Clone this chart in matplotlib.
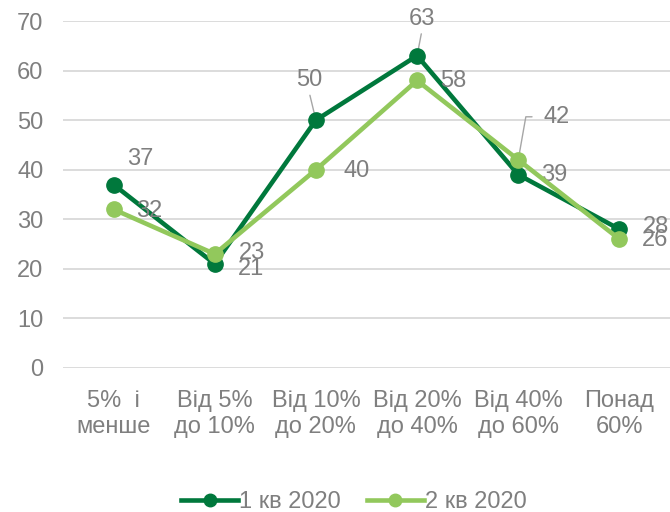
import numpy as np
import matplotlib.pyplot as plt

plt.rcParams['font.family'] = ['Liberation Sans', 'DejaVu Sans']

# categories and series
categories = ['5%  і\nменше', 'Від 5%\nдо 10%', 'Від 10%\nдо 20%',
              'Від 20%\nдо 40%', 'Від 40%\nдо 60%', 'Понад\n60%']
q1_2020 = [37, 21, 50, 63, 39, 28]
q2_2020 = [32, 23, 40, 58, 42, 26]
series_names = ['1 кв 2020', '2 кв 2020']

dark = '#00783C'
light = '#92C85C'
gray = '#7F7F7F'
lead = '#A6A6A6'

fig = plt.figure(figsize=(6.7, 5.12), dpi=100)
ax = fig.add_axes([63 / 670, 144 / 512, 607 / 670, 347 / 512])

x = np.arange(len(categories))
ax.plot(x, q1_2020, color=dark, lw=3.3, marker='o', ms=11, label=series_names[0], zorder=3)
ax.plot(x, q2_2020, color=light, lw=3.3, marker='o', ms=11, label=series_names[1], zorder=4)

ax.set_xlim(-0.5, 5.5)
ax.set_ylim(0, 70)
ax.set_yticks(range(0, 71, 10))
ax.set_xticks(x)
ax.set_xticklabels(categories)
ax.tick_params(length=0, labelsize=17, labelcolor=gray)
ax.tick_params(axis='y', pad=14)
ax.tick_params(axis='x', pad=16)
ax.grid(axis='y', color='#D9D9D9', lw=1.3)
ax.set_axisbelow(True)
for s in ax.spines.values():
    s.set_visible(False)

# label offsets in pixels (dx, dy), dy upward
off1 = [(27, 26), (36, -5), (-7, 40), (5, 37), (36, 0), (37, 2)]
off2 = [(36, -2), (37, 1), (41, -1), (36, -1), (38, 43), (36, -1)]

fs = 17
for i, v in enumerate(q1_2020):
    if i in (2, 3):
        ax.annotate(str(v), xy=(i, v), xytext=off1[i], textcoords='offset pixels',
                    ha='center', va='center', fontsize=fs, color=gray, zorder=2,
                    arrowprops=dict(arrowstyle='-', color=lead, lw=1,
                                    shrinkA=1, shrinkB=1, relpos=(0.5, 0)))
    else:
        ax.annotate(str(v), xy=(i, v), xytext=off1[i], textcoords='offset pixels',
                    ha='center', va='center', fontsize=fs, color=gray, annotation_clip=False)

for i, v in enumerate(q2_2020):
    if i == 4:
        ax.annotate(str(v), xy=(i, v), xytext=off2[i], textcoords='offset pixels',
                    ha='center', va='center', fontsize=fs, color=gray,
                    arrowprops=dict(arrowstyle='-', color=lead, lw=1,
                                    shrinkA=6, shrinkB=5, relpos=(0, 0.5),
                                    connectionstyle='angle,angleA=0,angleB=80,rad=0'))
    else:
        ax.annotate(str(v), xy=(i, v), xytext=off2[i], textcoords='offset pixels',
                    ha='center', va='center', fontsize=fs, color=gray, annotation_clip=False)

leg = fig.legend(loc='center', bbox_to_anchor=(354 / 670, 10 / 512), ncol=2,
                 frameon=False, fontsize=17, handlelength=2.4, handletextpad=0.05,
                 columnspacing=1.1, borderpad=0)
for t in leg.get_texts():
    t.set_color(gray)
for h in leg.legend_handles:
    h.set_markersize(9)

fig.savefig('out.png', dpi=100)
